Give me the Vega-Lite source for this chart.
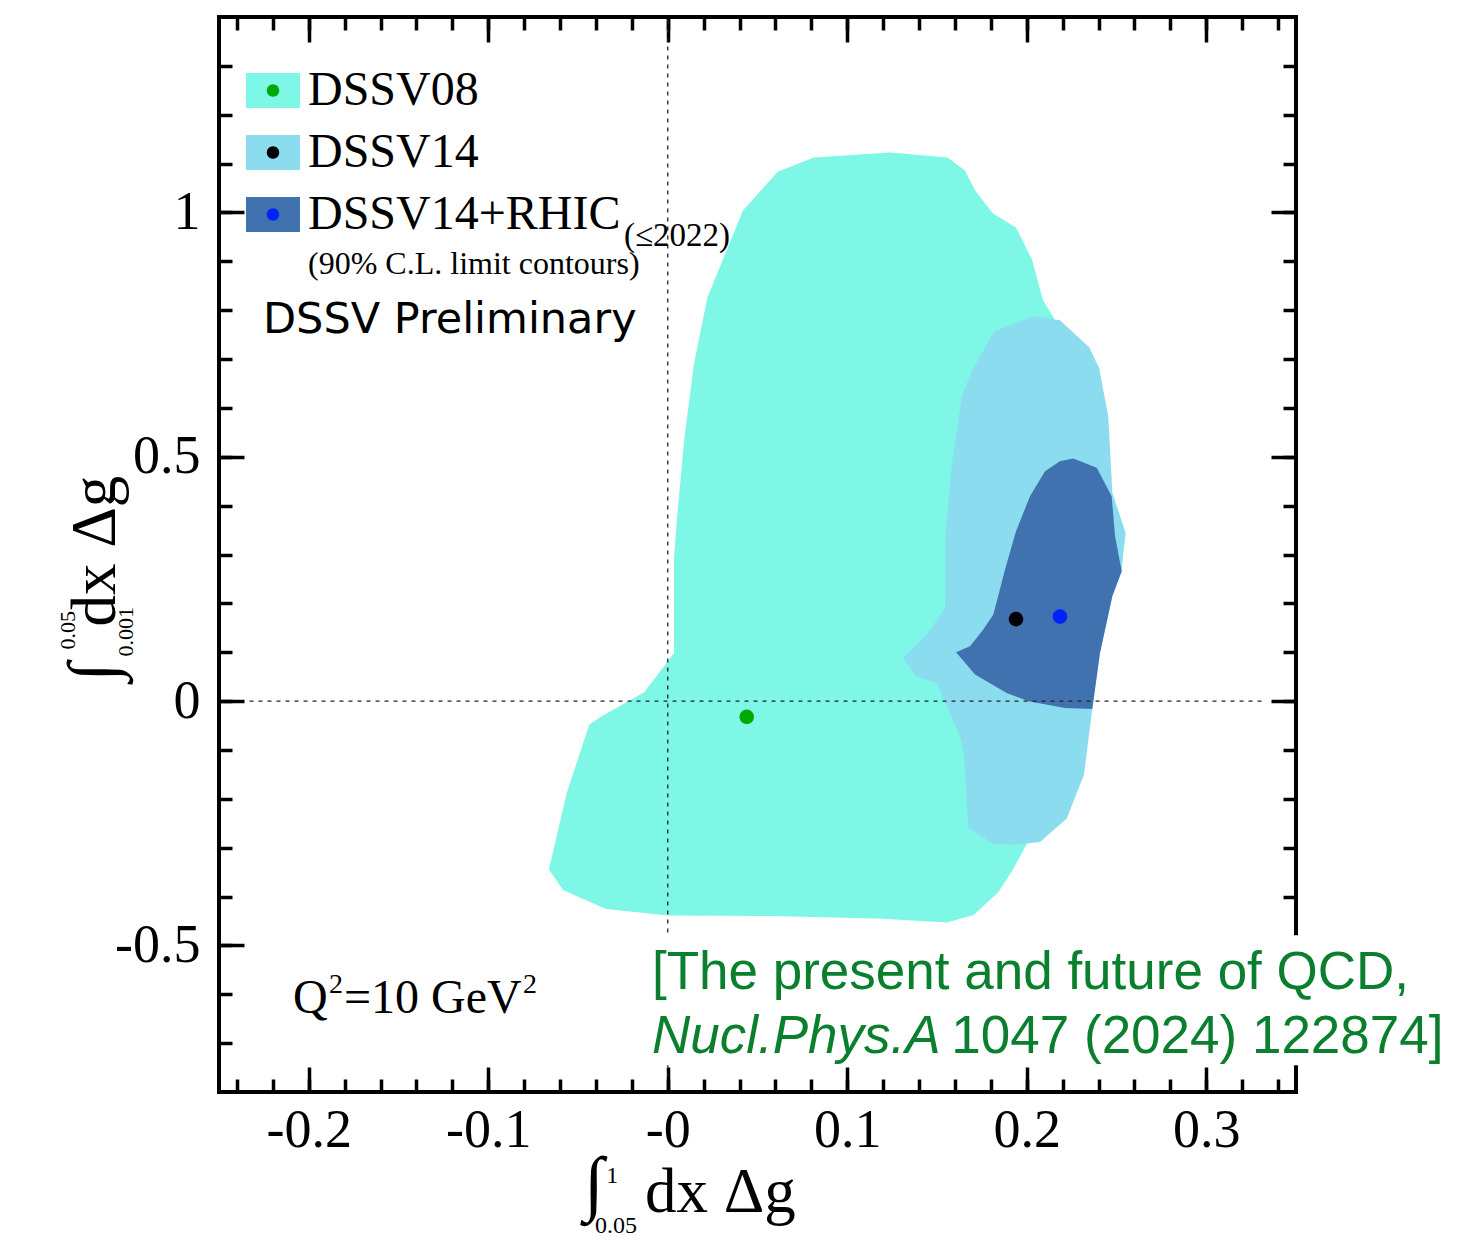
{
  "$schema": "https://vega.github.io/schema/vega-lite/v6.json",
  "description": "Truncated moments of the gluon helicity distribution: 90% C.L. limit contours for DSSV08, DSSV14 and DSSV14+RHIC.",
  "width": 1077,
  "height": 1075,
  "autosize": {"type": "none"},
  "padding": {"left": 219, "top": 17, "right": 179, "bottom": 145},
  "background": "white",
  "config": {
    "view": {"stroke": "black", "strokeWidth": 4},
    "axis": {
      "domain": false,
      "grid": false,
      "labelFont": "Liberation Serif",
      "labelFontSize": 54,
      "labelColor": "black",
      "labelFlush": false,
      "labelOverlap": false,
      "tickColor": "black",
      "tickWidth": 3.5
    }
  },
  "datasets": {
    "contours": [
      {"series": "DSSV08", "x": 0.0419, "y": 1.004},
      {"series": "DSSV08", "x": 0.0614, "y": 1.0837},
      {"series": "DSSV08", "x": 0.0815, "y": 1.1123},
      {"series": "DSSV08", "x": 0.1238, "y": 1.1226},
      {"series": "DSSV08", "x": 0.1559, "y": 1.1123},
      {"series": "DSSV08", "x": 0.1656, "y": 1.0857},
      {"series": "DSSV08", "x": 0.1712, "y": 1.0448},
      {"series": "DSSV08", "x": 0.1812, "y": 0.9977},
      {"series": "DSSV08", "x": 0.194, "y": 0.9691},
      {"series": "DSSV08", "x": 0.2029, "y": 0.9036},
      {"series": "DSSV08", "x": 0.2091, "y": 0.8197},
      {"series": "DSSV08", "x": 0.2152, "y": 0.7837},
      {"series": "DSSV08", "x": 0.2269, "y": 0.5761},
      {"series": "DSSV08", "x": 0.2297, "y": 0.2077},
      {"series": "DSSV08", "x": 0.2185, "y": -0.1607},
      {"series": "DSSV08", "x": 0.2001, "y": -0.2917},
      {"series": "DSSV08", "x": 0.1923, "y": -0.3449},
      {"series": "DSSV08", "x": 0.1843, "y": -0.3909},
      {"series": "DSSV08", "x": 0.1704, "y": -0.438},
      {"series": "DSSV08", "x": 0.1556, "y": -0.4533},
      {"series": "DSSV08", "x": 0.1166, "y": -0.4451},
      {"series": "DSSV08", "x": 0.057, "y": -0.44},
      {"series": "DSSV08", "x": 0.0003, "y": -0.439},
      {"series": "DSSV08", "x": -0.0344, "y": -0.4253},
      {"series": "DSSV08", "x": -0.0582, "y": -0.3872},
      {"series": "DSSV08", "x": -0.0662, "y": -0.3449},
      {"series": "DSSV08", "x": -0.0563, "y": -0.1879},
      {"series": "DSSV08", "x": -0.0437, "y": -0.0481},
      {"series": "DSSV08", "x": -0.0368, "y": -0.0311},
      {"series": "DSSV08", "x": -0.0131, "y": 0.018},
      {"series": "DSSV08", "x": 0.0035, "y": 0.0986},
      {"series": "DSSV08", "x": 0.0035, "y": 0.2937},
      {"series": "DSSV08", "x": 0.0052, "y": 0.3764},
      {"series": "DSSV08", "x": 0.0091, "y": 0.5332},
      {"series": "DSSV08", "x": 0.0146, "y": 0.6897},
      {"series": "DSSV08", "x": 0.0221, "y": 0.8258},
      {"series": "DSSV14", "x": 0.1819, "y": 0.7568},
      {"series": "DSSV14", "x": 0.204, "y": 0.7876},
      {"series": "DSSV14", "x": 0.2185, "y": 0.7794},
      {"series": "DSSV14", "x": 0.2348, "y": 0.7241},
      {"series": "DSSV14", "x": 0.2403, "y": 0.6819},
      {"series": "DSSV14", "x": 0.2454, "y": 0.5829},
      {"series": "DSSV14", "x": 0.2477, "y": 0.4261},
      {"series": "DSSV14", "x": 0.2551, "y": 0.3442},
      {"series": "DSSV14", "x": 0.2538, "y": 0.3033},
      {"series": "DSSV14", "x": 0.2529, "y": 0.2657},
      {"series": "DSSV14", "x": 0.248, "y": 0.2221},
      {"series": "DSSV14", "x": 0.2408, "y": 0.0993},
      {"series": "DSSV14", "x": 0.2365, "y": -0.016},
      {"series": "DSSV14", "x": 0.2319, "y": -0.1504},
      {"series": "DSSV14", "x": 0.2223, "y": -0.2405},
      {"series": "DSSV14", "x": 0.2074, "y": -0.2882},
      {"series": "DSSV14", "x": 0.1944, "y": -0.2937},
      {"series": "DSSV14", "x": 0.1814, "y": -0.2923},
      {"series": "DSSV14", "x": 0.1674, "y": -0.2595},
      {"series": "DSSV14", "x": 0.165, "y": -0.1054},
      {"series": "DSSV14", "x": 0.1628, "y": -0.072},
      {"series": "DSSV14", "x": 0.1498, "y": 0.0372},
      {"series": "DSSV14", "x": 0.1383, "y": 0.0508},
      {"series": "DSSV14", "x": 0.1312, "y": 0.0884},
      {"series": "DSSV14", "x": 0.1443, "y": 0.1361},
      {"series": "DSSV14", "x": 0.1545, "y": 0.1907},
      {"series": "DSSV14", "x": 0.1548, "y": 0.3442},
      {"series": "DSSV14", "x": 0.1582, "y": 0.4805},
      {"series": "DSSV14", "x": 0.1638, "y": 0.6238},
      {"series": "DSSV14", "x": 0.1693, "y": 0.675},
      {"series": "DSSV14+RHIC", "x": 0.2259, "y": 0.4963},
      {"series": "DSSV14+RHIC", "x": 0.239, "y": 0.4773},
      {"series": "DSSV14+RHIC", "x": 0.2473, "y": 0.4192},
      {"series": "DSSV14+RHIC", "x": 0.2492, "y": 0.3373},
      {"series": "DSSV14+RHIC", "x": 0.2529, "y": 0.2657},
      {"series": "DSSV14+RHIC", "x": 0.2477, "y": 0.2145},
      {"series": "DSSV14+RHIC", "x": 0.2408, "y": 0.0986},
      {"series": "DSSV14+RHIC", "x": 0.2365, "y": -0.016},
      {"series": "DSSV14+RHIC", "x": 0.2213, "y": -0.0139},
      {"series": "DSSV14+RHIC", "x": 0.2009, "y": -0.0004},
      {"series": "DSSV14+RHIC", "x": 0.1888, "y": 0.0168},
      {"series": "DSSV14+RHIC", "x": 0.1712, "y": 0.0542},
      {"series": "DSSV14+RHIC", "x": 0.1606, "y": 0.0999},
      {"series": "DSSV14+RHIC", "x": 0.1684, "y": 0.1122},
      {"series": "DSSV14+RHIC", "x": 0.1758, "y": 0.1463},
      {"series": "DSSV14+RHIC", "x": 0.1814, "y": 0.177},
      {"series": "DSSV14+RHIC", "x": 0.1879, "y": 0.2691},
      {"series": "DSSV14+RHIC", "x": 0.194, "y": 0.3475},
      {"series": "DSSV14+RHIC", "x": 0.2018, "y": 0.4192},
      {"series": "DSSV14+RHIC", "x": 0.2102, "y": 0.4703},
      {"series": "DSSV14+RHIC", "x": 0.2185, "y": 0.4908}
    ],
    "bestfit": [
      {"series": "DSSV08", "x": 0.044, "y": -0.0323},
      {"series": "DSSV14", "x": 0.194, "y": 0.1678},
      {"series": "DSSV14+RHIC", "x": 0.2185, "y": 0.1729}
    ],
    "annotation": [{}]
  },
  "resolve": {"axis": {"x": "independent", "y": "independent"}},
  "layer": [
    {
      "data": {"name": "contours"},
      "mark": {"type": "line", "interpolate": "linear-closed", "strokeWidth": 0},
      "encoding": {
        "x": {"field": "x", "type": "quantitative",
          "scale": {"domain": [-0.25, 0.35], "nice": false, "zero": false},
          "axis": {"orient": "bottom", "title": null, "values": [-0.2, -0.1, 0, 0.1, 0.2, 0.3], "tickSize": -25, "labelPadding": 36,
            "labelExpr": "datum.value == 0 ? '-0' : (datum.value < 0 ? '-' : '') + format(abs(datum.value), '.1f')"}},
        "y": {"field": "y", "type": "quantitative",
          "scale": {"domain": [-0.8, 1.4], "nice": false, "zero": false},
          "axis": {"orient": "left", "title": null, "values": [-0.5, 0, 0.5, 1], "tickSize": -25, "labelPadding": 44,
            "labelExpr": "(datum.value < 0 ? '-' : '') + abs(datum.value)"}},
        "order": {"value": null},
        "fill": {"field": "series", "type": "nominal",
          "scale": {"domain": ["DSSV08", "DSSV14", "DSSV14+RHIC"], "range": ["#7ef7e6", "#8bdcef", "#3f72ae"]},
          "legend": {"title": null, "orient": "none", "legendX": 27, "legendY": 46.5, "padding": 0, "zindex": 1,
            "symbolType": "M-1,-0.648L1,-0.648L1,0.648L-1,0.648Z", "symbolSize": 2916, "symbolStrokeWidth": 0, "symbolOpacity": 1,
            "labelFont": "Liberation Serif", "labelFontSize": 48, "labelColor": "black", "labelOffset": 8, "labelLimit": 600, "rowPadding": 11}}
      }
    },
    {
      "data": {"name": "annotation"},
      "mark": {"type": "rule", "strokeDash": [4, 5], "strokeWidth": 1.3, "color": "#222222"},
      "encoding": {
        "x": {"datum": 0, "type": "quantitative",
          "scale": {"domain": [-0.25, 0.35], "nice": false, "zero": false},
          "axis": {"orient": "bottom", "title": null, "labels": false, "tickSize": -13,
            "values": [-0.24, -0.22, -0.2, -0.18, -0.16, -0.14, -0.12, -0.1, -0.08, -0.06, -0.04, -0.02, 0, 0.02, 0.04, 0.06, 0.08, 0.1, 0.12, 0.14, 0.16, 0.18, 0.2, 0.22, 0.24, 0.26, 0.28, 0.3, 0.32, 0.34]}},
        "y": {"datum": 1.395, "type": "quantitative",
          "scale": {"domain": [-0.8, 1.4], "nice": false, "zero": false},
          "axis": {"orient": "left", "title": null, "labels": false, "tickSize": -13,
            "values": [-0.7, -0.6, -0.5, -0.4, -0.3, -0.2, -0.1, 0, 0.1, 0.2, 0.3, 0.4, 0.5, 0.6, 0.7, 0.8, 0.9, 1, 1.1, 1.2, 1.3]}},
        "y2": {"datum": -0.78}
      }
    },
    {
      "data": {"name": "annotation"},
      "mark": {"type": "rule", "strokeDash": [4, 5], "strokeWidth": 1.3, "color": "#222222"},
      "encoding": {
        "y": {"datum": 0, "type": "quantitative",
          "scale": {"domain": [-0.8, 1.4], "nice": false, "zero": false},
          "axis": {"orient": "right", "title": null, "labels": false, "tickSize": -13,
            "values": [-0.7, -0.6, -0.5, -0.4, -0.3, -0.2, -0.1, 0, 0.1, 0.2, 0.3, 0.4, 0.5, 0.6, 0.7, 0.8, 0.9, 1, 1.1, 1.2, 1.3]}},
        "x": {"datum": -0.233, "type": "quantitative",
          "scale": {"domain": [-0.25, 0.35], "nice": false, "zero": false},
          "axis": {"orient": "top", "title": null, "labels": false, "tickSize": -13,
            "values": [-0.24, -0.22, -0.2, -0.18, -0.16, -0.14, -0.12, -0.1, -0.08, -0.06, -0.04, -0.02, 0, 0.02, 0.04, 0.06, 0.08, 0.1, 0.12, 0.14, 0.16, 0.18, 0.2, 0.22, 0.24, 0.26, 0.28, 0.3, 0.32, 0.34]}},
        "x2": {"datum": 0.333}
      }
    },
    {
      "data": {"name": "bestfit"},
      "mark": {"type": "point", "filled": true, "size": 215, "opacity": 1, "strokeWidth": 0},
      "encoding": {
        "x": {"field": "x", "type": "quantitative",
          "scale": {"domain": [-0.25, 0.35], "nice": false, "zero": false},
          "axis": {"orient": "top", "title": null, "labels": false, "values": [-0.2, -0.1, 0, 0.1, 0.2, 0.3], "tickSize": -25}},
        "y": {"field": "y", "type": "quantitative",
          "scale": {"domain": [-0.8, 1.4], "nice": false, "zero": false},
          "axis": {"orient": "right", "title": null, "labels": false, "values": [-0.5, 0, 0.5, 1], "tickSize": -25}},
        "color": {"field": "series", "type": "nominal",
          "scale": {"range": ["#00aa00", "#000000", "#0022ff"]},
          "legend": {"title": null, "orient": "none", "legendX": 27, "legendY": 46.5, "padding": 0, "zindex": 2,
            "symbolType": "M0.23,0A0.23,0.23,0,1,1,-0.23,0A0.23,0.23,0,1,1,0.23,0Z", "symbolSize": 2916, "symbolStrokeWidth": 0, "symbolOpacity": 1,
            "labelFont": "Liberation Serif", "labelFontSize": 48, "labelOpacity": 0, "labelOffset": 8, "labelLimit": 600, "rowPadding": 11}}
      }
    },
    {
      "data": {"name": "annotation"},
      "mark": {"type": "rect", "fill": "white"},
      "encoding": {
        "x": {"datum": -0.0127, "type": "quantitative", "scale": {"domain": [-0.25, 0.35], "nice": false, "zero": false}, "axis": null},
        "x2": {"datum": 0.4327},
        "y": {"datum": -0.479, "type": "quantitative", "scale": {"domain": [-0.8, 1.4], "nice": false, "zero": false}, "axis": null},
        "y2": {"datum": -0.745}
      }
    },
    {
      "data": {"name": "annotation"},
      "mark": {"type": "text", "text": "(≤2022)", "font": "Liberation Serif", "fontSize": 33, "align": "left", "baseline": "alphabetic", "color": "black"},
      "encoding": {
        "x": {"datum": -0.0244, "type": "quantitative", "scale": {"domain": [-0.25, 0.35], "nice": false, "zero": false}, "axis": null},
        "y": {"datum": 0.9322, "type": "quantitative", "scale": {"domain": [-0.8, 1.4], "nice": false, "zero": false}, "axis": null}
      }
    },
    {
      "data": {"name": "annotation"},
      "mark": {"type": "text", "text": "(90% C.L. limit contours)", "font": "Liberation Serif", "fontSize": 32, "align": "left", "baseline": "alphabetic", "color": "black"},
      "encoding": {
        "x": {"datum": -0.2004, "type": "quantitative", "scale": {"domain": [-0.25, 0.35], "nice": false, "zero": false}, "axis": null},
        "y": {"datum": 0.8749, "type": "quantitative", "scale": {"domain": [-0.8, 1.4], "nice": false, "zero": false}, "axis": null}
      }
    },
    {
      "data": {"name": "annotation"},
      "mark": {"type": "text", "text": "DSSV Preliminary", "font": "DejaVu Sans", "fontSize": 43, "align": "left", "baseline": "alphabetic", "color": "black"},
      "encoding": {
        "x": {"datum": -0.2255, "type": "quantitative", "scale": {"domain": [-0.25, 0.35], "nice": false, "zero": false}, "axis": null},
        "y": {"datum": 0.7542, "type": "quantitative", "scale": {"domain": [-0.8, 1.4], "nice": false, "zero": false}, "axis": null}
      }
    },
    {
      "data": {"name": "annotation"},
      "mark": {"type": "text", "text": "Q", "font": "Liberation Serif", "fontSize": 48, "align": "left", "baseline": "alphabetic", "color": "black"},
      "encoding": {
        "x": {"datum": -0.2088, "type": "quantitative", "scale": {"domain": [-0.25, 0.35], "nice": false, "zero": false}, "axis": null},
        "y": {"datum": -0.6375, "type": "quantitative", "scale": {"domain": [-0.8, 1.4], "nice": false, "zero": false}, "axis": null}
      }
    },
    {
      "data": {"name": "annotation"},
      "mark": {"type": "text", "text": "2", "font": "Liberation Serif", "fontSize": 28, "align": "left", "baseline": "alphabetic", "color": "black"},
      "encoding": {
        "x": {"datum": -0.1887, "type": "quantitative", "scale": {"domain": [-0.25, 0.35], "nice": false, "zero": false}, "axis": null},
        "y": {"datum": -0.5966, "type": "quantitative", "scale": {"domain": [-0.8, 1.4], "nice": false, "zero": false}, "axis": null}
      }
    },
    {
      "data": {"name": "annotation"},
      "mark": {"type": "text", "text": "=10 GeV", "font": "Liberation Serif", "fontSize": 48, "align": "left", "baseline": "alphabetic", "color": "black"},
      "encoding": {
        "x": {"datum": -0.1804, "type": "quantitative", "scale": {"domain": [-0.25, 0.35], "nice": false, "zero": false}, "axis": null},
        "y": {"datum": -0.6375, "type": "quantitative", "scale": {"domain": [-0.8, 1.4], "nice": false, "zero": false}, "axis": null}
      }
    },
    {
      "data": {"name": "annotation"},
      "mark": {"type": "text", "text": "2", "font": "Liberation Serif", "fontSize": 28, "align": "left", "baseline": "alphabetic", "color": "black"},
      "encoding": {
        "x": {"datum": -0.0806, "type": "quantitative", "scale": {"domain": [-0.25, 0.35], "nice": false, "zero": false}, "axis": null},
        "y": {"datum": -0.5966, "type": "quantitative", "scale": {"domain": [-0.8, 1.4], "nice": false, "zero": false}, "axis": null}
      }
    },
    {
      "data": {"name": "annotation"},
      "mark": {"type": "text", "text": "[The present and future of QCD,", "font": "Liberation Sans", "fontSize": 53, "align": "left", "baseline": "alphabetic", "color": "#0a7f2e"},
      "encoding": {
        "x": {"datum": -0.0088, "type": "quantitative", "scale": {"domain": [-0.25, 0.35], "nice": false, "zero": false}, "axis": null},
        "y": {"datum": -0.5884, "type": "quantitative", "scale": {"domain": [-0.8, 1.4], "nice": false, "zero": false}, "axis": null}
      }
    },
    {
      "data": {"name": "annotation"},
      "mark": {"type": "text", "text": "Nucl.Phys.A", "font": "Liberation Sans", "fontStyle": "italic", "fontSize": 53, "align": "left", "baseline": "alphabetic", "color": "#0a7f2e"},
      "encoding": {
        "x": {"datum": -0.0088, "type": "quantitative", "scale": {"domain": [-0.25, 0.35], "nice": false, "zero": false}, "axis": null},
        "y": {"datum": -0.7194, "type": "quantitative", "scale": {"domain": [-0.8, 1.4], "nice": false, "zero": false}, "axis": null}
      }
    },
    {
      "data": {"name": "annotation"},
      "mark": {"type": "text", "text": "1047 (2024) 122874]", "font": "Liberation Sans", "fontSize": 53, "align": "left", "baseline": "alphabetic", "color": "#0a7f2e"},
      "encoding": {
        "x": {"datum": 0.158, "type": "quantitative", "scale": {"domain": [-0.25, 0.35], "nice": false, "zero": false}, "axis": null},
        "y": {"datum": -0.7194, "type": "quantitative", "scale": {"domain": [-0.8, 1.4], "nice": false, "zero": false}, "axis": null}
      }
    },
    {
      "data": {"name": "annotation"},
      "mark": {"type": "text", "text": "dx Δg", "font": "Liberation Serif", "fontSize": 63, "align": "left", "baseline": "alphabetic", "color": "black"},
      "encoding": {
        "x": {"datum": -0.0127, "type": "quantitative", "scale": {"domain": [-0.25, 0.35], "nice": false, "zero": false}, "axis": null},
        "y": {"datum": -1.0448, "type": "quantitative", "scale": {"domain": [-0.8, 1.4], "nice": false, "zero": false}, "axis": null}
      }
    },
    {
      "data": {"name": "annotation"},
      "mark": {"type": "text", "text": "∫", "font": "Liberation Serif", "fontSize": 72, "align": "left", "baseline": "alphabetic", "color": "black"},
      "encoding": {
        "x": {"datum": -0.0467, "type": "quantitative", "scale": {"domain": [-0.25, 0.35], "nice": false, "zero": false}, "axis": null},
        "y": {"datum": -1.0346, "type": "quantitative", "scale": {"domain": [-0.8, 1.4], "nice": false, "zero": false}, "axis": null}
      }
    },
    {
      "data": {"name": "annotation"},
      "mark": {"type": "text", "text": "1", "font": "Liberation Serif", "fontSize": 24, "align": "left", "baseline": "alphabetic", "color": "black"},
      "encoding": {
        "x": {"datum": -0.0343, "type": "quantitative", "scale": {"domain": [-0.25, 0.35], "nice": false, "zero": false}, "axis": null},
        "y": {"datum": -0.9855, "type": "quantitative", "scale": {"domain": [-0.8, 1.4], "nice": false, "zero": false}, "axis": null}
      }
    },
    {
      "data": {"name": "annotation"},
      "mark": {"type": "text", "text": "0.05", "font": "Liberation Serif", "fontSize": 24, "align": "left", "baseline": "alphabetic", "color": "black"},
      "encoding": {
        "x": {"datum": -0.0405, "type": "quantitative", "scale": {"domain": [-0.25, 0.35], "nice": false, "zero": false}, "axis": null},
        "y": {"datum": -1.0878, "type": "quantitative", "scale": {"domain": [-0.8, 1.4], "nice": false, "zero": false}, "axis": null}
      }
    },
    {
      "data": {"name": "annotation"},
      "mark": {"type": "text", "text": "dx Δg", "font": "Liberation Serif", "fontSize": 63, "align": "left", "baseline": "alphabetic", "angle": 270, "color": "black"},
      "encoding": {
        "x": {"datum": -0.3079, "type": "quantitative", "scale": {"domain": [-0.25, 0.35], "nice": false, "zero": false}, "axis": null},
        "y": {"datum": 0.1525, "type": "quantitative", "scale": {"domain": [-0.8, 1.4], "nice": false, "zero": false}, "axis": null}
      }
    },
    {
      "data": {"name": "annotation"},
      "mark": {"type": "text", "text": "∫", "font": "Liberation Serif", "fontSize": 68, "align": "left", "baseline": "alphabetic", "angle": 270, "color": "black"},
      "encoding": {
        "x": {"datum": -0.3079, "type": "quantitative", "scale": {"domain": [-0.25, 0.35], "nice": false, "zero": false}, "axis": null},
        "y": {"datum": 0.04, "type": "quantitative", "scale": {"domain": [-0.8, 1.4], "nice": false, "zero": false}, "axis": null}
      }
    },
    {
      "data": {"name": "annotation"},
      "mark": {"type": "text", "text": "0.05", "font": "Liberation Serif", "fontSize": 22, "align": "left", "baseline": "alphabetic", "angle": 270, "color": "black"},
      "encoding": {
        "x": {"datum": -0.3302, "type": "quantitative", "scale": {"domain": [-0.25, 0.35], "nice": false, "zero": false}, "axis": null},
        "y": {"datum": 0.1054, "type": "quantitative", "scale": {"domain": [-0.8, 1.4], "nice": false, "zero": false}, "axis": null}
      }
    },
    {
      "data": {"name": "annotation"},
      "mark": {"type": "text", "text": "0.001", "font": "Liberation Serif", "fontSize": 22, "align": "left", "baseline": "alphabetic", "angle": 270, "color": "black"},
      "encoding": {
        "x": {"datum": -0.2979, "type": "quantitative", "scale": {"domain": [-0.25, 0.35], "nice": false, "zero": false}, "axis": null},
        "y": {"datum": 0.0911, "type": "quantitative", "scale": {"domain": [-0.8, 1.4], "nice": false, "zero": false}, "axis": null}
      }
    }
  ]
}
